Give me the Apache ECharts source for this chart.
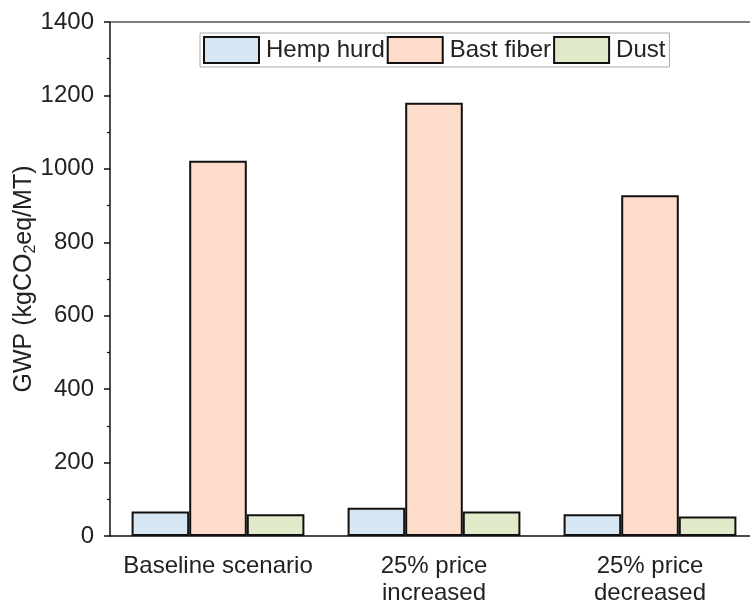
<!DOCTYPE html>
<html>
<head>
<meta charset="utf-8">
<script src="https://cdn.jsdelivr.net/npm/echarts@6/dist/echarts.min.js"></script>
<style>
  html, body { margin: 0; padding: 0; background: #fff; }
  #chart { width: 750px; height: 605px; }
</style>
</head>
<body>
<div id="chart"></div>
<script>
// Scenario categories and GWP values per co-product (kgCO2eq/MT)
const categories = ['Baseline scenario', '25% price\nincreased', '25% price\ndecreased'];
const hempHurd = [67, 77, 59];
const bastFiber = [1022, 1180, 928];
const dust = [59, 67, 53];
const yTicks = { min: 0, max: 1400, interval: 200 };

const FONT = '"Liberation Sans", Arial, sans-serif';
const TXT = '#222';

function barSeries(name, data, color) {
  return {
    name: name,
    type: 'bar',
    data: data,
    barGap: '0%',
    barCategoryGap: '20%',
    itemStyle: { color: color, borderColor: '#111', borderWidth: 2 }
  };
}

const chart = echarts.init(document.getElementById('chart'), null, { renderer: 'canvas' });
chart.setOption({
  animation: false,
  backgroundColor: '#fff',
  textStyle: { fontFamily: FONT, color: TXT },
  // the plot runs slightly past the right edge of the canvas, so keep it unconstrained
  grid: { left: 110, top: 22, width: 648, height: 514, containLabel: false, outerBoundsMode: 'none' },
  legend: {
    left: 200, top: 33,
    icon: 'rect',
    itemWidth: 55, itemHeight: 26, itemGap: 2,
    padding: [3, 4, 3, 3],
    borderColor: '#aaa', borderWidth: 1,
    textStyle: { fontSize: 24, color: TXT, fontFamily: FONT, padding: [0, 0, 0, 2] },
    data: ['Hemp hurd', 'Bast fiber', 'Dust']
  },
  xAxis: [
    {
      type: 'category', data: categories, position: 'bottom',
      axisLine: { lineStyle: { color: '#111', width: 1.5 } },
      axisTick: { alignWithLabel: true, length: 7, lineStyle: { color: '#111', width: 1.5 } },
      axisLabel: { interval: 0, fontSize: 24, color: TXT, margin: 17, lineHeight: 27, fontFamily: FONT }
    },
    {
      type: 'category', data: categories, position: 'bottom', gridIndex: 0,
      axisLine: { show: false },
      axisTick: { interval: 0, alignWithLabel: false, length: 4, lineStyle: { color: '#111', width: 1.2 } },
      axisLabel: { show: false }
    },
    {
      type: 'category', data: categories, position: 'top', gridIndex: 0,
      axisLine: { lineStyle: { color: '#555', width: 1.5 } },
      axisTick: { show: false },
      axisLabel: { show: false }
    }
  ],
  yAxis: {
    type: 'value', min: yTicks.min, max: yTicks.max, interval: yTicks.interval,
    name: 'GWP (kgCO{sub|2}eq/MT)',
    nameLocation: 'middle', nameRotate: 90, nameGap: 71, nameMoveOverlap: false,
    nameTextStyle: {
      fontSize: 25, color: TXT, fontFamily: FONT,
      rich: { sub: { fontSize: 16, color: TXT, fontFamily: FONT, padding: [13, 0, 0, 0] } }
    },
    axisLine: { show: true, lineStyle: { color: '#111', width: 1.5 } },
    axisTick: { show: true, length: 6, lineStyle: { color: '#111', width: 1.5 } },
    minorTick: { show: true, splitNumber: 2, length: 3, lineStyle: { color: '#111', width: 1.2 } },
    splitLine: { show: false },
    axisLabel: { fontSize: 24, color: TXT, margin: 16, fontFamily: FONT, formatter: v => String(v) }
  },
  series: [
    barSeries('Hemp hurd', hempHurd, '#d6e7f3'),
    barSeries('Bast fiber', bastFiber, '#fddccc'),
    barSeries('Dust', dust, '#e0eac8')
  ]
});
</script>
</body>
</html>
